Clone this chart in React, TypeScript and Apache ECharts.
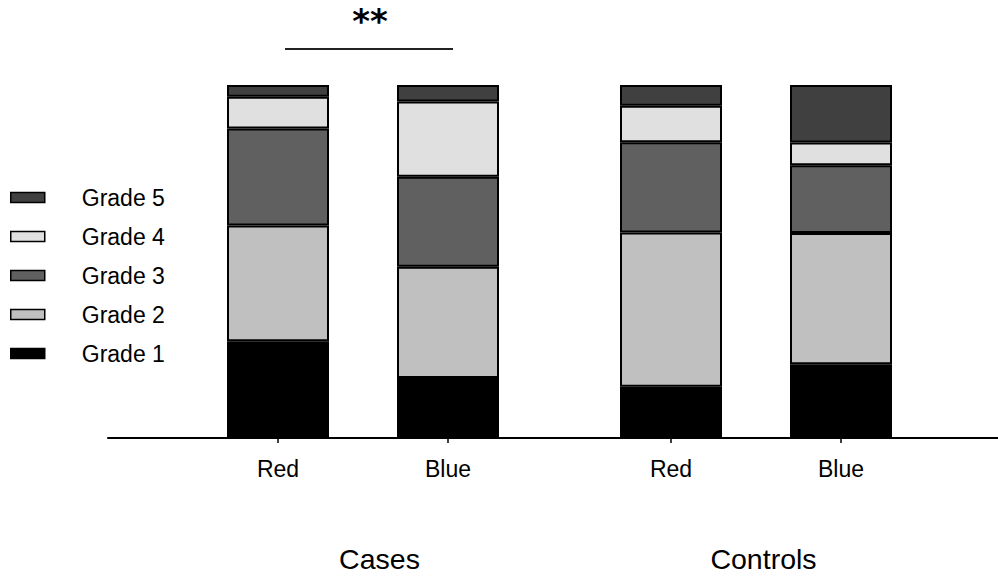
import React, { useEffect, useRef } from 'react';
import * as echarts from 'echarts';

// Group and bar names
const groups = ['Cases', 'Controls'];
const colourCategories = ['', 'Red', 'Blue', ''];
const grades = ['Grade 1', 'Grade 2', 'Grade 3', 'Grade 4', 'Grade 5'];

// Percentage of subjects in each grade, ordered:
// Cases-Red, Cases-Blue, Controls-Red, Controls-Blue
const grade1 = [27.4, 17.0, 14.5, 20.9];
const grade2 = [32.8, 31.5, 43.7, 37.2];
const grade3 = [27.5, 25.5, 25.6, 19.2];
const grade4 = [9.0, 21.3, 10.3, 6.4];
const grade5 = [3.3, 4.7, 5.9, 16.3];
const gradeValues = [grade1, grade2, grade3, grade4, grade5];

const significance = '**';

const gradeFills = ['#000000', '#c0c0c0', '#606060', '#e0e0e0', '#404040'];
const FONT = '"Liberation Sans", Arial, sans-serif';

export default function App() {
  const ref = useRef<HTMLDivElement>(null);

  useEffect(() => {
    if (!ref.current) return;
    const chart = echarts.init(ref.current, undefined, { renderer: 'svg' });

    // One grid per group; the two x axes overlap so they read as one line.
    const grids = groups.map((_, g) => ({
      left: g === 0 ? 108 : 501,
      width: 510,
      top: 85,
      height: 353,
      outerBoundsMode: 'none',
      containLabel: false,
    }));

    const xAxes = groups.map((_, g) => ({
      type: 'category' as const,
      gridIndex: g,
      data: colourCategories,
      boundaryGap: false,
      axisLine: { show: true, lineStyle: { color: '#000', width: 2 } },
      axisTick: {
        show: true,
        length: 5,
        interval: (_i: number, v: string) => v !== '',
        lineStyle: { color: '#000', width: 1.5 },
      },
      axisLabel: {
        interval: 0,
        fontSize: 23,
        fontFamily: FONT,
        color: '#000',
        margin: 19,
      },
      splitLine: { show: false },
    }));

    const yAxes = groups.map((_, g) => ({
      type: 'value' as const,
      gridIndex: g,
      min: 0,
      max: 100,
      show: false,
    }));

    const series: any[] = [];
    groups.forEach((_, g) => {
      grades.forEach((grade, k) => {
        const vals = gradeValues[k];
        series.push({
          type: 'bar',
          name: grade,
          xAxisIndex: g,
          yAxisIndex: g,
          stack: 'group' + g,
          barWidth: 102,
          data: [null, vals[g * 2], vals[g * 2 + 1], null],
          itemStyle: {
            color: gradeFills[k],
            borderColor: '#000',
            borderWidth: 2,
          },
        });
      });
    });

    chart.setOption({
      animation: false,
      backgroundColor: '#fff',
      grid: grids,
      xAxis: xAxes,
      yAxis: yAxes,
      legend: {
        data: [...grades].reverse(),
        orient: 'vertical',
        left: 10,
        top: 186,
        padding: 0,
        icon: 'rect',
        itemWidth: 34,
        itemHeight: 10,
        itemGap: 16,
        selectedMode: false,
        itemStyle: { borderWidth: 1.5 },
        textStyle: {
          fontSize: 23,
          fontFamily: FONT,
          color: '#000',
          padding: [0, 0, 0, 32],
        },
      },
      graphic: [
        {
          type: 'line',
          shape: { x1: 285, y1: 49, x2: 453, y2: 49 },
          style: { stroke: '#222', lineWidth: 2 },
        },
        {
          type: 'text',
          x: 370,
          y: 21,
          style: {
            text: significance,
            fontSize: 34,
            fontWeight: 'bold',
            fontFamily: '"DejaVu Sans", sans-serif',
            fill: '#000',
            align: 'center',
            verticalAlign: 'middle',
          },
        },
        {
          type: 'text',
          x: 379.5,
          y: 559,
          style: {
            text: groups[0],
            fontSize: 28.5,
            fontFamily: FONT,
            fill: '#000',
            align: 'center',
            verticalAlign: 'middle',
          },
        },
        {
          type: 'text',
          x: 763.5,
          y: 559,
          style: {
            text: groups[1],
            fontSize: 28.5,
            fontFamily: FONT,
            fill: '#000',
            align: 'center',
            verticalAlign: 'middle',
          },
        },
      ],
      series,
    });

    return () => chart.dispose();
  }, []);

  return (
    <div
      ref={ref}
      style={{ position: 'absolute', left: 0, top: 0, width: 998, height: 576 }}
    />
  );
}
